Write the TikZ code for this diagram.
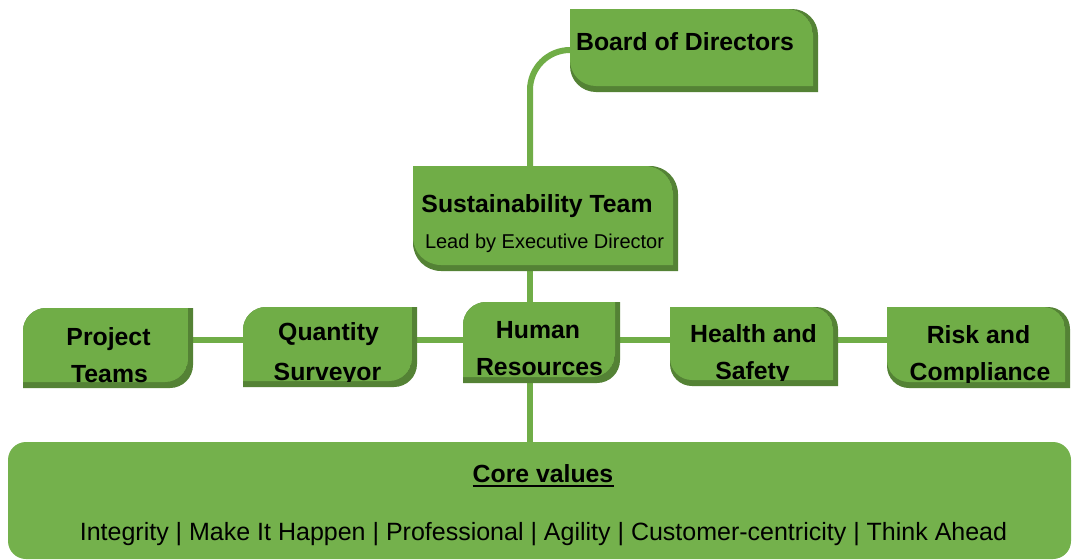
\documentclass[tikz,border=0pt]{standalone}
\usepackage{fontspec}
\setmainfont{Liberation Sans}
\usetikzlibrary{fit,backgrounds}
\definecolor{mygreen}{HTML}{70AD47}
\definecolor{dkgreen}{HTML}{548235}
\definecolor{cvgreen}{HTML}{74B14C}
% shape A: top-right and bottom-left rounded
\newcommand\pathA[5]{({#1},{-(#2)}) -- ({#3-#5},{-(#2)}) arc[start angle=90,end angle=0,radius=#5pt] -- ({#3},{-(#4)}) -- ({#1+#5},{-(#4)}) arc[start angle=270,end angle=180,radius=#5pt] -- cycle}
% shape B: top-left and bottom-right rounded
\newcommand\pathB[5]{({#1},{-(#2+#5)}) arc[start angle=180,end angle=90,radius=#5pt] -- ({#3},{-(#2)}) -- ({#3},{-(#4-#5)}) arc[start angle=0,end angle=-90,radius=#5pt] -- ({#1},{-(#4)}) -- cycle}
% name, L, T, R, B, r, content
\newcommand\gboxA[7]{%
  \fill[dkgreen] \pathA{#2}{#3}{#4+5}{#5+6}{#6};
  \begin{scope}
    \clip \pathA{#2}{#3}{#4}{#5}{#6};
    \fill[mygreen] \pathA{#2}{#3}{#4}{#5}{#6};
    #7
  \end{scope}
  \node[fit={({#2},{-(#3)}) ({#4},{-(#5)})}, inner sep=0pt] (#1) {};}
\newcommand\gboxB[7]{%
  \fill[dkgreen] \pathB{#2}{#3}{#4+5}{#5+6}{#6};
  \begin{scope}
    \clip \pathB{#2}{#3}{#4}{#5}{#6};
    \fill[mygreen] \pathB{#2}{#3}{#4}{#5}{#6};
    #7
  \end{scope}
  \node[fit={({#2},{-(#3)}) ({#4},{-(#5)})}, inner sep=0pt] (#1) {};}
\tikzset{
  bt/.style={font=\fontsize{24.8}{30}\selectfont\bfseries, inner sep=0pt, anchor=base, text=black},
  rt/.style={font=\fontsize{20}{24}\selectfont, inner sep=0pt, anchor=base, text=black},
  vt/.style={font=\fontsize{25}{30}\selectfont, inner sep=0pt, anchor=base, text=black},
  conn/.style={draw=mygreen, line width=6pt}
}
\begin{document}
\begin{tikzpicture}[x=1pt,y=1pt]
\useasboundingbox (0,0) rectangle (1072,-560);
\begin{scope}[on background layer]
  \fill[white] (0,0) rectangle (1072,-560);
\end{scope}

\gboxA{bod}{570}{9}{813}{86}{26}{\node[bt] (bodt) at (685,-50) {Board of Directors};}
\gboxA{st}{413}{166}{673}{265}{28}{%
  \node[bt] (stt) at (537,-212) {Sustainability Team};
  \node[rt] (sts) at (544.5,-248) {Lead by Executive Director};}
\gboxB{pt}{23}{308}{188}{382}{23}{%
  \node[bt] (pt1) at (108.5,-345) {Project};
  \node[bt] (pt2) at (109.5,-382) {Teams};}
\gboxB{qs}{243}{307}{412}{381}{23}{%
  \node[bt] (qs1) at (328.5,-340) {Quantity};
  \node[bt] (qs2) at (327.5,-380) {Surveyor};}
\gboxB{hr}{463}{302}{615}{377}{23}{%
  \node[bt] (hr1) at (538,-338) {Human};
  \node[bt] (hr2) at (539.5,-375) {Resources};}
\gboxA{hs}{670}{307}{833}{380}{22}{%
  \node[bt] (hs1) at (753.5,-342) {Health and};
  \node[bt] (hs2) at (752.5,-379) {Safety};}
\gboxA{rc}{887}{307}{1065}{382}{22}{%
  \node[bt] (rc1) at (978.5,-343) {Risk and};
  \node[bt] (rc2) at (980,-380.5) {Compliance};}

\fill[cvgreen, rounded corners=18pt] (8,-442) rectangle (1071,-559);
\node[fit={(8,-442) (1071,-559)}, inner sep=0pt] (cv) {};
\node[bt] (cvt) at (543,-482) {Core values};
\draw[line width=2pt] ([yshift=-3.5pt]cvt.base west) -- ([yshift=-3.5pt]cvt.base east);
\node[vt] (cvv) at (543.5,-540) {Integrity | Make It Happen | Professional | Agility | Customer-centricity | Think Ahead};

\coordinate (spine) at (530,0);
\begin{scope}[on background layer]
  \draw[conn, rounded corners=40pt] ([yshift=-2.5pt]bod.west) -| (st.north -| spine);
  \draw[conn] (st.south -| spine) -- (hr.north -| spine);
  \draw[conn] (hr.south -| spine) -- (cv.north -| spine);
  \draw[conn] (pt.east |- hr.center) -- (qs.west |- hr.center);
  \draw[conn] (qs.east |- hr.center) -- (hr.west);
  \draw[conn] (hr.east) -- (hs.west |- hr.center);
  \draw[conn] (hs.east |- hr.center) -- (rc.west |- hr.center);
\end{scope}
\end{tikzpicture}
\end{document}
